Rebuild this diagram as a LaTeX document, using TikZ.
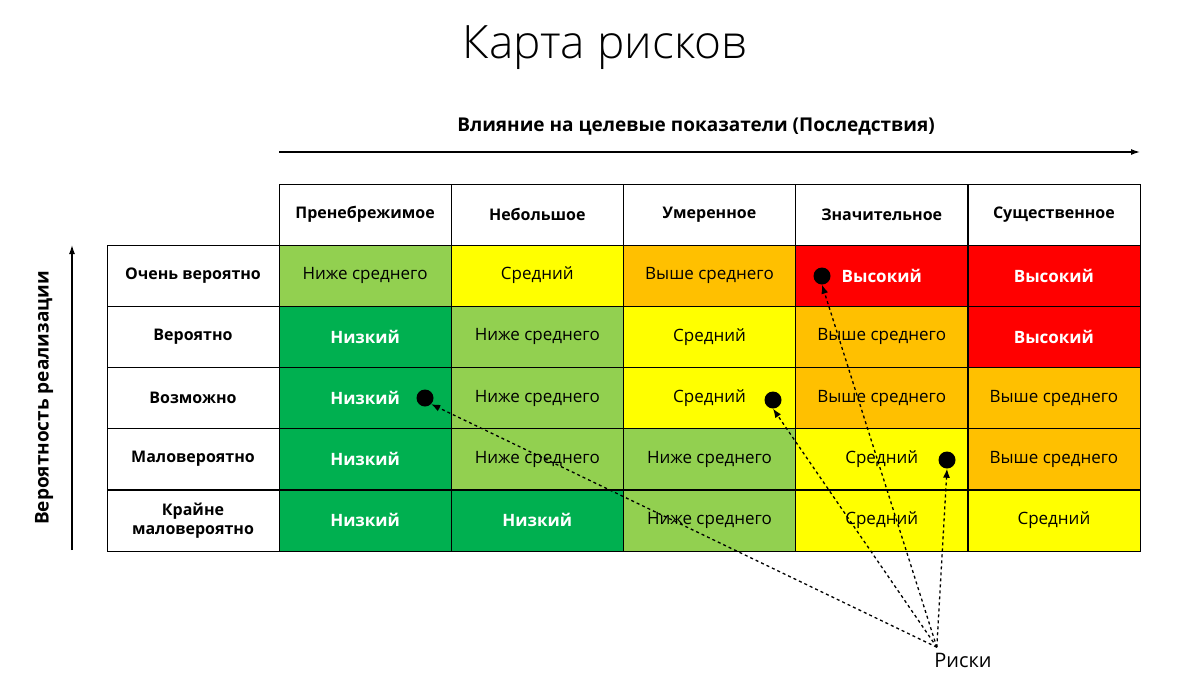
\documentclass[tikz,border=0pt]{standalone}
\usepackage{fontspec}
\setmainfont{Open Sans}
\newfontfamily\titlefont{Open Sans Light}
\usetikzlibrary{arrows.meta}
\definecolor{LG}{HTML}{92D050}
\definecolor{DG}{HTML}{00B050}
\definecolor{YY}{HTML}{FFFF00}
\definecolor{OO}{HTML}{FFC000}
\definecolor{RR}{HTML}{FF0000}
\tikzset{
 cell/.style={draw=black,line width=0.8pt,minimum width=172pt,minimum height=61pt,inner sep=0pt,font=\fontsize{17}{20}\selectfont,align=center,anchor=center},
 hdr/.style={cell,fill=white,font=\bfseries\fontsize{16}{19}\selectfont},
 wt/.style={text=white,font=\bfseries\fontsize{17}{20}\selectfont},
 dot/.style={circle,fill=black,minimum size=17pt,inner sep=0pt},
 risk/.style={dashed,line width=1.3pt,-{Latex[length=9pt,width=7pt]}}
}
\begin{document}
\begin{tikzpicture}[x=1pt,y=-1pt]
\useasboundingbox (0,0) rectangle (1200,673);
\fill[white] (0,0) rectangle (1200,673);
\node (title) at (605,48) {\titlefont\fontsize{46}{50}\selectfont Карта рисков};
\node (xlab) at (696,127) {\bfseries\fontsize{19}{22}\selectfont Влияние на целевые показатели (Последствия)};
\coordinate (xa) at (279,152); \coordinate (xb) at (1140,152);
\draw[line width=1.3pt,-{Latex[length=9pt,width=6pt]}] (xa) -- (xb);
\coordinate (ya) at (72,550); \coordinate (yb) at (72,245);
\draw[line width=1.3pt,-{Latex[length=9pt,width=6pt]}] (ya) -- (yb);
\node[rotate=90] (ylab) at (44,398) {\bfseries\fontsize{19}{22}\selectfont Вероятность реализации};
% headers
\foreach \i/\t in {1/Пренебрежимое,2/Небольшое,3/Умеренное,4/Значительное,5/Существенное}
  \node[hdr] (h\i) at ({279+172.2*(\i-0.5)},214.5) {\t};
\foreach \j/\t in {1/Очень вероятно,2/Вероятно,3/Возможно,4/Маловероятно,5/{Крайне\\маловероятно}}
  \node[hdr] (r\j) at (193,{245+61.2*(\j-0.5)}) {\t};
% cells: row, col, colour, text, style
\foreach \j/\i/\c/\t/\s in {
 1/1/LG/Ниже среднего/,1/2/YY/Средний/,1/3/OO/Выше среднего/,1/4/RR/Высокий/wt,1/5/RR/Высокий/wt,
 2/1/DG/Низкий/wt,2/2/LG/Ниже среднего/,2/3/YY/Средний/,2/4/OO/Выше среднего/,2/5/RR/Высокий/wt,
 3/1/DG/Низкий/wt,3/2/LG/Ниже среднего/,3/3/YY/Средний/,3/4/OO/Выше среднего/,3/5/OO/Выше среднего/,
 4/1/DG/Низкий/wt,4/2/LG/Ниже среднего/,4/3/LG/Ниже среднего/,4/4/YY/Средний/,4/5/OO/Выше среднего/,
 5/1/DG/Низкий/wt,5/2/DG/Низкий/wt,5/3/LG/Ниже среднего/,5/4/YY/Средний/,5/5/YY/Средний/}
  \node[cell,fill=\c,\s] (c\j\i) at ({279+172.2*(\i-0.5)},{245+61.2*(\j-0.5)}) {\t};
% risks
\node[dot] (d1) at (822,276) {};
\node[dot] (d2) at (425,398) {};
\node[dot] (d3) at (773,400) {};
\node[dot] (d4) at (947,460) {};
\node (rk) at (963,660) {\fontsize{20}{24}\selectfont Риски};
\draw[risk] (rk.north west) ++(6,-2) coordinate (s1) -- (d1.south);
\draw[risk] (s1) -- (d2.south east);
\draw[risk] (s1) -- (d3.south);
\draw[risk] (s1) -- (d4.south);
\end{tikzpicture}
\end{document}
